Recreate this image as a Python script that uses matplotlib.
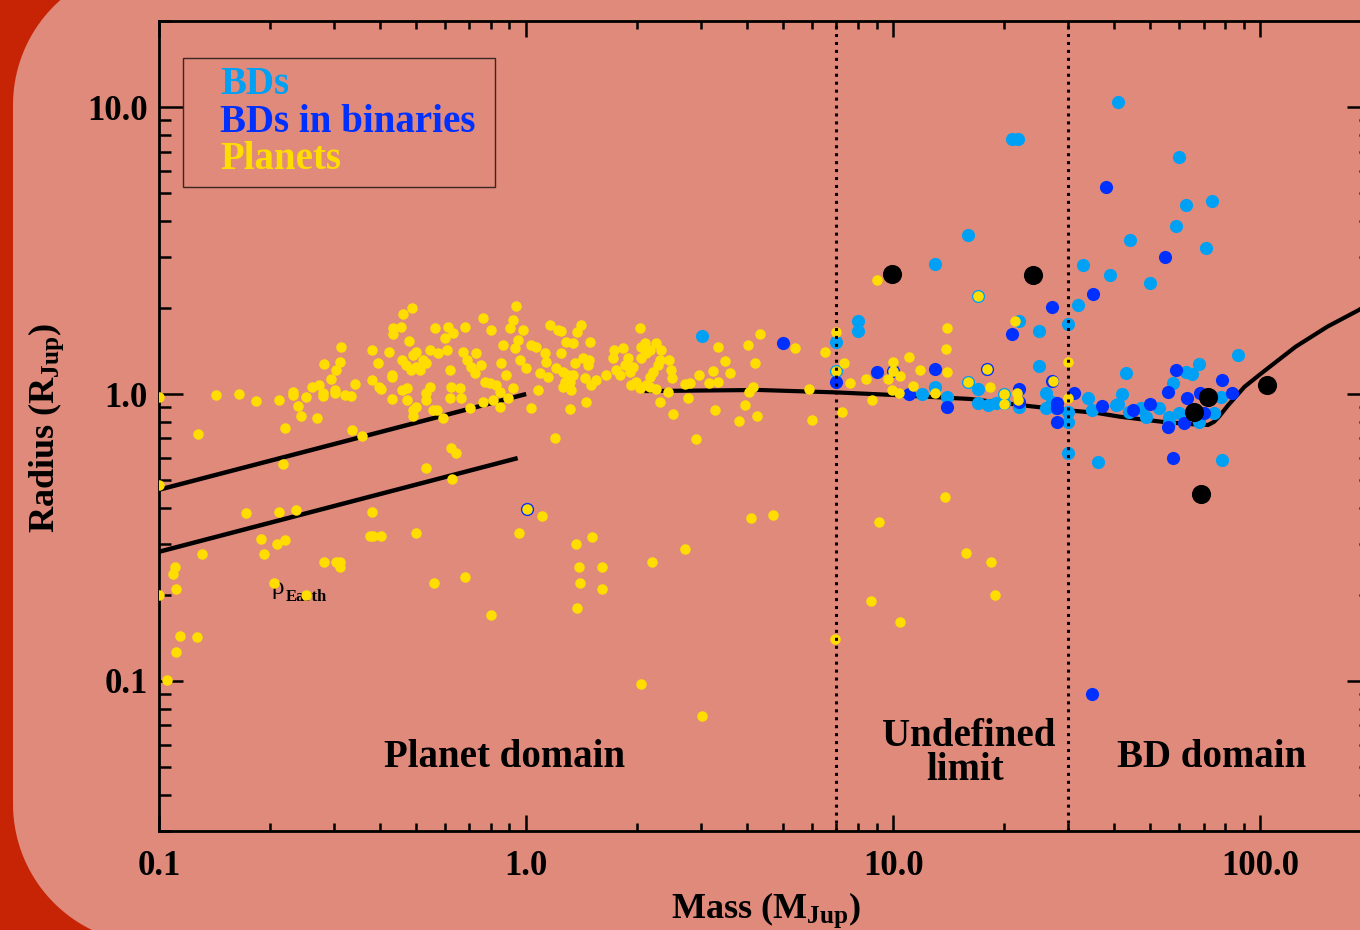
import matplotlib
matplotlib.use('Agg')
import matplotlib.pyplot as plt
import numpy as np
from matplotlib.patches import Polygon, Rectangle
from matplotlib.ticker import LogLocator, NullFormatter

plt.rcParams['font.family'] = ['Liberation Serif', 'DejaVu Serif']
plt.rcParams['font.weight'] = 'bold'
plt.rcParams['mathtext.fontset'] = 'custom'
plt.rcParams['mathtext.rm'] = 'Liberation Serif:bold'
plt.rcParams['mathtext.bf'] = 'Liberation Serif:bold'
plt.rcParams['mathtext.it'] = 'Liberation Serif:bold:italic'

# ---------------- data ----------------
planet_mass = [
    0.1, 0.1, 0.1, 0.105, 0.143, 0.165, 0.184, 0.212, 0.231, 0.231, 0.2385, 0.244, 0.251, 0.269,
    0.261, 0.272, 0.28, 0.28, 0.294, 0.303, 0.282, 0.311, 0.314, 0.301, 0.301, 0.322, 0.333, 0.341,
    0.335, 0.357, 0.221, 0.128, 0.218, 0.381, 0.394, 0.38, 0.397, 0.402, 0.422, 0.431, 0.431, 0.432,
    0.434, 0.434, 0.456, 0.462, 0.489, 0.48, 0.46, 0.47, 0.46, 0.475, 0.492, 0.502, 0.487, 0.502,
    0.513, 0.524, 0.535, 0.475, 0.492, 0.502, 0.492, 0.535, 0.535, 0.546, 0.546, 0.564, 0.558, 0.57,
    0.575, 0.594, 0.6, 0.607, 0.613, 0.632, 0.619, 0.626, 0.619, 0.659, 0.666, 0.68, 0.673, 0.688,
    0.709, 0.724, 0.732, 0.702, 0.755, 0.772, 0.763, 0.796, 0.804, 0.763, 0.813, 0.83, 0.847, 0.855,
    0.865, 0.847, 0.892, 0.883, 0.902, 0.92, 0.93, 0.92, 0.95, 0.94, 0.96, 0.98, 1.0, 1.033, 1.033,
    1.066, 1.076, 1.088, 1.123, 1.135, 1.147, 1.159, 1.208, 1.221, 1.196, 0.626, 0.643, 0.533, 0.629,
    0.1725, 0.212, 0.2355, 0.381, 0.19, 0.193, 0.21, 0.221, 0.131, 0.1105, 0.109, 0.111, 0.281, 0.303,
    0.311, 0.312, 0.375, 0.383, 0.402, 0.502, 0.954, 1.005, 1.104, 0.2055, 0.251, 0.561, 0.683, 0.804,
    0.114, 0.127, 0.111,
    1.247, 1.413, 1.377, 1.286, 1.341, 1.496, 1.242, 1.355, 1.428, 1.482, 1.472, 1.259, 1.3, 1.341,
    1.273, 1.313, 1.259, 1.327, 1.443, 1.552, 1.503, 1.646, 1.313, 1.458,
    1.73, 1.834, 1.722, 1.76, 1.797, 1.854, 1.892, 1.912, 1.953, 1.932, 1.995, 2.036, 2.058, 2.101,
    2.123, 2.058, 2.168, 2.262, 2.333, 2.309, 2.284, 2.213, 2.168, 2.123, 2.036, 2.168, 2.262, 2.457,
    2.483, 2.5, 2.432, 2.318, 2.51, 2.716, 2.798, 2.965, 3.237, 3.326, 3.475, 3.6, 3.157, 3.326,
    2.756, 3.26, 3.95, 4.25, 3.81, 4.057, 4.14, 4.014, 4.345, 4.204, 5.41, 5.907, 6.006, 6.517, 7.0,
    7.0, 7.34, 7.606, 7.25, 8.41, 8.73, 9.69, 9.96, 9.92, 2.91,
    1.364, 1.514, 1.392, 1.605, 1.404, 1.605, 1.374, 2.195, 2.704, 4.107, 4.706, 2.058, 3.009, 6.95,
    9.12, 13.8, 15.8, 18.4, 18.9, 8.69, 10.4,
    9.01, 17.0, 21.5, 14.0, 13.9, 14.0, 11.0, 10.0, 10.45, 10.38, 11.34, 11.8, 13.0, 16.0, 17.97,
    18.37, 19.96, 19.96, 21.7, 21.9, 27.3, 30.0, 30.0,
]
planet_radius = [
    0.98, 0.482, 0.199, 0.101, 0.99, 1.0, 0.946, 0.953, 1.02, 0.99, 0.908, 0.838, 0.98, 0.823,
    1.055, 1.075, 1.005, 0.984, 1.128, 1.212, 1.27, 1.296, 1.461, 1.03, 1.006, 0.99, 0.986, 1.083,
    0.749, 0.716, 0.763, 0.726, 0.569, 1.42, 1.279, 1.119, 1.06, 1.038, 1.397, 1.165, 1.143, 0.961,
    1.694, 1.618, 1.715, 1.9, 1.989, 1.533, 1.314, 1.262, 1.032, 1.047, 1.367, 1.404, 1.212, 1.245,
    1.212, 1.314, 1.279, 0.953, 0.88, 0.903, 0.838, 1.006, 0.953, 1.06, 1.423, 1.694, 0.88, 0.88,
    1.386, 0.823, 1.563, 1.423, 1.716, 1.627, 1.212, 1.06, 0.966, 1.047, 0.966, 1.716, 1.404, 1.314,
    1.245, 1.181, 1.386, 0.892, 1.262, 1.104, 0.94, 1.09, 1.67, 1.836, 0.953, 1.075, 1.019, 1.279,
    1.481, 0.903, 0.966, 1.165, 1.694, 1.81, 1.443, 1.047, 1.542, 2.026, 1.314, 1.67, 1.229, 1.481, 0.892,
    1.461, 1.032, 1.181, 1.386, 1.296, 1.149, 1.739, 1.229, 1.67, 0.701, 0.647, 0.624, 0.551, 0.506,
    0.384, 0.387, 0.394, 0.389, 0.313, 0.276, 0.30, 0.31, 0.276, 0.25, 0.236, 0.21, 0.26, 0.26,
    0.26, 0.249, 0.32, 0.32, 0.32, 0.329, 0.327, 0.397, 0.376, 0.22, 0.1994, 0.219, 0.23, 0.17,
    0.1435, 0.1427, 0.126,
    1.662, 1.739, 1.648, 1.521, 1.502, 1.521, 1.393, 1.285, 1.331, 1.314, 1.262, 1.196, 1.165, 1.165,
    1.104, 1.104, 1.06, 1.032, 1.134, 1.119, 1.075, 1.165, 0.884, 0.94,
    1.423, 1.443, 1.331, 1.212, 1.165, 1.262, 1.331, 1.196, 1.245, 1.075, 1.104, 1.694, 1.461, 1.502,
    1.386, 1.331, 1.423, 1.502, 1.423, 1.314, 1.262, 1.196, 1.149, 1.075, 1.047, 1.06, 1.038, 1.314,
    1.212, 1.134, 1.019, 0.94, 0.85, 1.081, 1.09, 1.165, 1.203, 1.461, 1.306, 1.181, 1.09, 1.104,
    0.966, 0.88, 0.918, 0.838, 0.807, 1.019, 1.06, 1.481, 1.614, 1.285, 1.446, 1.038, 0.812, 1.404, 1.648,
    1.205, 1.279, 1.09, 0.864, 1.131, 0.951, 1.125, 1.296, 1.032, 0.699,
    0.2995, 0.318, 0.249, 0.249, 0.219, 0.209, 0.179, 0.259, 0.289, 0.369, 0.379, 0.0976, 0.0755, 0.14,
    0.359, 0.439, 0.279, 0.259, 0.1994, 0.19, 0.16,
    2.49, 2.196, 1.797, 1.694, 1.435, 1.196, 1.348, 1.2, 1.158, 1.006, 1.066, 1.212, 1.006, 1.098, 1.219,
    1.06, 1.0, 0.921, 1.01, 0.953, 1.113, 1.296, 0.966,
]

bd_mass = [
    3.01, 7.0, 7.0, 8.0, 8.0, 13.0, 16.0, 21.0, 21.9, 17.0, 22.0, 25.0, 30.0, 32.9, 38.9, 31.9,
    41.0, 59.9, 73.8, 62.8, 58.9, 71.0, 44.0, 49.9, 12.0, 13.0, 14.0, 16.0, 17.0, 17.0, 18.06,
    19.02, 20.04, 19.96, 22.0, 26.0, 26.0, 27.1, 30.0, 30.0, 30.0, 34.0, 34.8, 40.4, 36.0, 25.0,
    42.9, 86.9, 67.9, 62.6, 65.0, 57.8, 41.9, 27.7, 41.0, 43.9, 47.2, 48.9, 52.9, 56.4, 60.0, 56.4,
    68.0, 74.7, 77.9, 78.7,
]
bd_radius = [
    1.596, 1.521, 1.205, 1.8, 1.662, 2.84, 3.58, 7.72, 7.72, 2.196, 1.797, 1.658, 1.754, 2.807, 2.6, 2.037,
    10.43, 6.71, 4.72, 4.56, 3.85, 3.22, 3.45, 2.437, 1.0, 1.055, 0.979, 1.098, 1.038, 0.928, 0.916,
    0.928, 0.928, 1.0, 0.903, 1.01, 0.892, 0.94, 0.864, 0.797, 0.621, 0.966, 0.88, 0.916, 0.578, 1.255,
    1.186, 1.367, 1.269, 1.196, 1.174, 1.09, 1.0, 0.892, 0.923, 0.868, 0.892, 0.834, 0.892, 0.834, 0.857, 0.79,
    0.801, 0.857, 0.979, 0.589,
]

bdbin_mass = [
    5.0, 7.0, 9.01, 10.0, 11.0, 13.0, 14.0, 17.97, 21.0, 22.0, 22.0, 27.0, 34.9, 27.0, 28.0, 28.0,
    28.0, 31.1, 37.0, 38.0, 55.0, 45.0, 49.9, 55.9, 55.9, 58.9, 62.9, 61.9, 68.3, 70.2, 78.7, 83.5,
    57.8, 34.8, 1.005,
]
bdbin_radius = [
    1.502, 1.098, 1.196, 1.2, 1.0, 1.219, 0.899, 1.219, 1.618, 1.038, 0.94, 2.014, 2.225, 1.11, 0.928, 0.801,
    0.892, 1.006, 0.91, 5.25, 2.995, 0.88, 0.923, 1.019, 0.769, 1.212, 0.966, 0.79, 1.006, 0.861, 1.119, 1.006,
    0.6, 0.09, 0.397,
]

other_mass = [9.93, 24.0, 65.8, 71.9, 104.0, 68.9]
other_radius = [2.62, 2.60, 0.866, 0.976, 1.074, 0.448]

# evolutionary / mass-radius relation
curve_mass = [2.1, 4.3, 7.0, 10.4, 16.2, 23.4, 30.0, 35.7, 41.3, 54.0, 65.0, 72.0, 74.7, 77.1, 81.7,
              90.5, 101.0, 124.6, 152.0, 185.0, 200.0]
curve_radius = [1.024, 1.033, 1.013, 0.99, 0.961, 0.908, 0.877, 0.86, 0.834, 0.80, 0.785, 0.78, 0.80,
                0.834, 0.915, 1.06, 1.186, 1.461, 1.716, 1.96, 2.08]

# constant density lines
rho_jup_mass = [0.1, 1.0]
rho_jup_radius = [0.464, 1.0]
rho_earth_mass = [0.1, 0.948]
rho_earth_radius = [0.282, 0.598]

limit_masses = [7.0, 30.0]

xticks = [0.1, 1.0, 10.0, 100.0]
xticklabels = ['0.1', '1.0', '10.0', '100.0']
yticks = [0.1, 1.0, 10.0]
yticklabels = ['0.1', '1.0', '10.0']

legend_labels = ['BDs', 'BDs in binaries', 'Planets']

# ---------------- styling ----------------
W, H = 1360, 930
BG = '#E08A7B'
FRAME = '#C62405'
C_BD = '#00A0F5'
C_BIN = '#0030FF'
C_PL = '#FFDD00'

def PX(x):
    return x / W

def PY(y):
    return 1 - y / H

fig = plt.figure(figsize=(W / 100, H / 100), dpi=100)
fig.patch.set_facecolor(FRAME)

# rounded slide background (pixel coordinates, y up)
def rounded_poly(x0, y0, x1, y1, r, n=40):
    pts = []
    corners = [((x1 - r, y1 - r), 0, 90), ((x0 + r, y1 - r), 90, 180),
               ((x0 + r, y0 + r), 180, 270), ((x1 - r, y0 + r), 270, 360)]
    for (cx, cy), a0, a1 in corners:
        for a in np.linspace(np.radians(a0), np.radians(a1), n):
            pts.append((cx + r * np.cos(a), cy + r * np.sin(a)))
    return np.array(pts)

poly = rounded_poly(13, H - 944, 1700, H + 35, 140)
poly[:, 0] /= W
poly[:, 1] /= H
fig.add_artist(Polygon(poly, closed=True, facecolor=BG, edgecolor='none',
                       transform=fig.transFigure, zorder=-1))

ax_left, ax_right, ax_top, ax_bot = 159, 1371, 20.7, 831
ax = fig.add_axes([PX(ax_left), PY(ax_bot), (ax_right - ax_left) / W, (ax_bot - ax_top) / H])
ax.set_facecolor('none')
ax.set_xscale('log')
ax.set_yscale('log')
ax.set_xlim(0.1, 200)
ax.set_ylim(0.03, 20)

for sp in ax.spines.values():
    sp.set_linewidth(2.0)
    sp.set_color('black')

ax.set_xticks(xticks)
ax.set_xticklabels(xticklabels)
ax.set_yticks(yticks)
ax.set_yticklabels(yticklabels)
ax.xaxis.set_minor_locator(LogLocator(base=10, subs=np.arange(2, 10), numticks=100))
ax.yaxis.set_minor_locator(LogLocator(base=10, subs=np.arange(2, 10), numticks=100))
ax.xaxis.set_minor_formatter(NullFormatter())
ax.yaxis.set_minor_formatter(NullFormatter())
ax.tick_params(axis='x', which='major', direction='in', length=11.5, width=1.8,
               top=True, bottom=True, labelsize=25, pad=14)
ax.tick_params(axis='x', which='minor', direction='in', length=5.8, width=1.8, top=True, bottom=True)
ax.tick_params(axis='y', which='major', direction='in', length=17.3, width=1.8,
               left=True, right=True, labelsize=25, pad=8)
ax.tick_params(axis='y', which='minor', direction='in', length=8.6, width=1.8, left=True, right=True)

# lines
ax.plot(curve_mass, curve_radius, color='black', lw=3.0, zorder=2, solid_capstyle='butt')
ax.plot(rho_jup_mass, rho_jup_radius, color='black', lw=3.2, zorder=2, solid_capstyle='butt')
ax.plot(rho_earth_mass, rho_earth_radius, color='black', lw=3.2, zorder=2, solid_capstyle='butt')

# points
ax.scatter(bd_mass, bd_radius, s=90, color=C_BD, linewidths=0, zorder=3)
ax.scatter(bdbin_mass, bdbin_radius, s=90, color=C_BIN, linewidths=0, zorder=4)
ax.scatter(planet_mass, planet_radius, s=57, color=C_PL, linewidths=0, zorder=5)
ax.scatter(other_mass, other_radius, s=190, color='black', linewidths=0, zorder=6)

for m in limit_masses:
    ax.axvline(m, color='black', lw=2.2, linestyle=(0, (1, 1.6)), zorder=7)

# texts inside plot
tf = fig.transFigure
ax.text(PX(271), PY(594), 'ρ', transform=tf, fontsize=18, fontweight='normal',
        ha='left', va='baseline', zorder=1)
ax.text(PX(286), PY(601), 'Earth', transform=tf, fontsize=12, ha='left', va='baseline', zorder=1)
ax.text(PX(505), PY(767), 'Planet domain', transform=tf, fontsize=28, ha='center', va='baseline', zorder=1)
ax.text(PX(969), PY(746), 'Undefined', transform=tf, fontsize=28, ha='center', va='baseline', zorder=1)
ax.text(PX(965), PY(780), 'limit', transform=tf, fontsize=28, ha='center', va='baseline', zorder=1)
ax.text(PX(1212), PY(767), 'BD domain', transform=tf, fontsize=28, ha='center', va='baseline', zorder=1)

# legend box
ax.add_patch(Rectangle((PX(183), PY(187)), PX(495) - PX(183), PY(58) - PY(187), transform=tf,
                       facecolor='none', edgecolor='#3a2622', lw=1.0, zorder=8))
for lab, col, yb in zip(legend_labels, [C_BD, C_BIN, C_PL], [94, 132, 169]):
    ax.text(PX(220), PY(yb), lab, transform=tf, fontsize=28, color=col,
            ha='left', va='baseline', zorder=8)

# axis titles
fig.text(PX(766), PY(918), 'Mass ($\\mathrm{M}_{\\mathrm{Jup}}$)', fontsize=26,
         ha='center', va='baseline')
fig.text(PX(46), PY(428), 'Radius ($\\mathrm{R}_{\\mathrm{Jup}}$)', fontsize=26,
         ha='center', va='center', rotation=90)

fig.savefig('out.png', dpi=100, facecolor=FRAME)
